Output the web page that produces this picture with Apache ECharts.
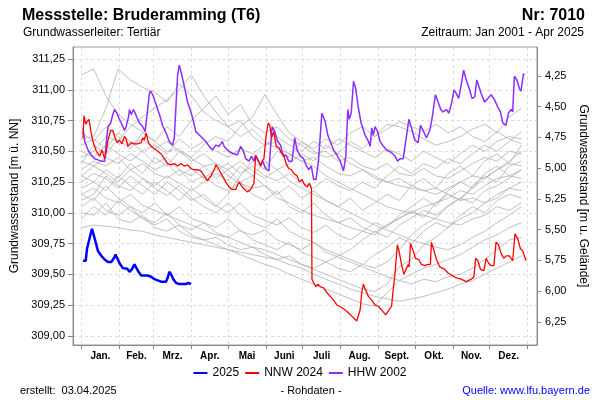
<!DOCTYPE html>
<html><head><meta charset="utf-8">
<script src="https://cdn.jsdelivr.net/npm/echarts@6/dist/echarts.min.js"></script>
<style>html,body{margin:0;padding:0;background:#fff}#c{width:600px;height:400px}</style>
</head><body><div id="c"></div>
<script>
// ---- axis definitions ----
const monthNames = ['Jan.','Feb.','Mrz.','Apr.','Mai','Juni','Juli','Aug.','Sept.','Okt.','Nov.','Dez.'];
const monthStarts = [0,31,59,90,120,151,181,212,243,273,304,334,365];
const leftTicks = [309,309.25,309.5,309.75,310,310.25,310.5,310.75,311,311.25];
const rightTicks = [4.25,4.5,4.75,5,5.25,5.5,5.75,6,6.25];
const groundLevel = 315.363;

// ---- other years (grey), sampled every 10 days ----
const grayDays = [0,10,20,30,40,50,60,70,80,90,100,110,120,130,140,150,160,170,180,190,200,210,220,230,240,250,260,270,280,290,300,310,320,330,340,350,360];
const gray01 = [311.12,311.17,310.95,310.80,310.72,310.66,310.58,310.50,310.52,310.44,310.38,310.40,310.30,310.24,310.20,310.22,310.12,310.08,310.02,309.98,309.95,309.92,309.88,309.85,309.82,309.90,309.96,310.00,310.05,310.08,310.12,310.18,310.15,310.22,310.28,310.30,310.35];
const gray02 = [310.60,310.62,310.85,311.17,311.08,311.02,310.98,310.90,311.05,310.95,310.82,310.75,310.70,310.62,310.68,310.58,310.52,310.48,310.42,310.45,310.38,310.32,310.30,310.35,310.28,310.25,310.22,310.20,310.18,310.15,310.20,310.25,310.30,310.28,310.35,310.40,310.38];
const gray03 = [310.45,310.50,310.62,310.58,310.70,310.78,310.85,310.92,311.00,311.12,310.95,310.82,310.70,310.75,310.62,310.55,310.58,310.48,310.42,310.38,310.30,310.25,310.20,310.15,310.10,310.05,310.02,310.00,309.98,309.95,309.92,309.90,309.95,309.98,310.05,310.02,310.08];
const gray04 = [310.30,310.25,310.35,310.28,310.40,310.32,310.45,310.38,310.50,310.45,310.55,310.62,310.58,310.70,310.78,310.96,310.80,310.65,310.58,310.50,310.45,310.48,310.40,310.35,310.30,310.25,310.28,310.22,310.18,310.20,310.15,310.10,310.12,310.08,310.15,310.20,310.18];
const gray05 = [310.40,310.55,310.48,310.60,310.52,310.65,310.58,310.70,310.62,310.75,310.85,310.95,310.80,310.88,310.72,310.65,310.70,310.60,310.55,310.48,310.50,310.42,310.45,310.38,310.35,310.40,310.32,310.30,310.36,310.30,310.28,310.34,310.40,310.45,310.42,310.50,310.48];
const gray06 = [310.20,310.25,310.18,310.30,310.22,310.15,310.25,310.18,310.10,310.20,310.12,310.05,310.15,310.30,310.42,310.35,310.50,310.45,310.58,310.52,310.60,310.55,310.65,310.70,310.62,310.72,310.70,310.66,310.60,310.55,310.58,310.62,310.68,310.72,310.65,310.78,310.85];
const gray07 = [310.10,310.15,310.30,310.22,310.18,310.28,310.20,310.14,310.22,310.12,310.05,310.00,310.08,309.98,309.92,309.88,309.95,309.85,309.80,309.76,309.70,309.66,309.62,309.58,309.55,309.60,309.70,309.82,309.90,309.96,310.05,310.12,310.20,310.28,310.35,310.42,310.50];
const gray08 = [309.88,309.90,309.89,309.88,309.86,309.85,309.82,309.80,309.78,309.76,309.74,309.72,309.70,309.68,309.66,309.64,309.62,309.58,309.55,309.50,309.46,309.42,309.38,309.35,309.32,309.30,309.28,309.30,309.32,309.35,309.38,309.42,309.45,309.50,309.55,309.60,309.65];
const gray09 = [310.05,310.12,310.02,309.98,310.05,309.95,309.90,309.95,309.85,309.80,309.78,309.74,309.70,309.66,309.62,309.58,309.55,309.50,309.46,309.42,309.38,309.34,309.30,309.26,309.24,309.35,309.45,309.50,309.55,309.58,309.62,309.66,309.72,309.78,309.82,309.88,309.92];
const gray10 = [310.15,310.10,310.22,310.12,310.05,310.00,310.08,309.98,309.94,309.90,309.86,309.82,309.80,309.76,309.72,309.70,309.66,309.62,309.58,309.54,309.50,309.46,309.42,309.38,309.36,309.42,309.56,309.62,309.74,309.80,309.88,309.95,310.00,310.08,310.12,310.20,310.25];
const gray11 = [310.35,310.42,310.38,310.45,310.35,310.40,310.32,310.28,310.35,310.25,310.30,310.22,310.18,310.25,310.15,310.10,310.18,310.05,310.00,310.08,309.98,309.92,309.96,309.88,309.84,309.90,309.95,310.02,309.96,310.08,310.15,310.10,310.22,310.30,310.25,310.38,310.42];
const gray12 = [310.50,310.45,310.55,310.48,310.42,310.50,310.40,310.45,310.35,310.30,310.38,310.28,310.35,310.25,310.30,310.22,310.15,310.22,310.12,310.18,310.10,310.05,310.12,310.02,310.08,310.15,310.10,310.22,310.28,310.20,310.32,310.38,310.30,310.42,310.48,310.40,310.55];
const gray13 = [310.25,310.32,310.28,310.20,310.30,310.22,310.15,310.25,310.18,310.10,310.15,310.06,310.00,310.08,309.98,309.94,309.90,309.96,309.88,309.84,309.90,309.82,309.78,309.85,309.92,309.88,309.98,310.05,310.12,310.05,310.18,310.25,310.20,310.32,310.38,310.30,310.28];
const gray14 = [310.00,309.98,310.08,309.95,309.92,309.98,309.88,309.85,309.90,309.82,309.78,309.80,309.74,309.70,309.72,309.66,309.62,309.65,309.58,309.55,309.60,309.55,309.52,309.58,309.66,309.72,309.80,309.75,309.85,309.92,309.88,309.98,310.05,310.00,310.10,310.15,310.12];
const gray15 = [310.55,310.60,310.52,310.65,310.58,310.50,310.55,310.48,310.60,310.52,310.58,310.50,310.45,310.52,310.48,310.55,310.62,310.55,310.50,310.58,310.52,310.60,310.55,310.50,310.45,310.52,310.48,310.42,310.50,310.45,310.40,310.48,310.55,310.50,310.58,310.62,310.60];
const gray16 = [310.42,310.38,310.45,310.40,310.48,310.42,310.35,310.40,310.30,310.36,310.28,310.35,310.40,310.32,310.38,310.30,310.26,310.32,310.25,310.20,310.28,310.22,310.18,310.25,310.20,310.30,310.38,310.32,310.40,310.36,310.44,310.40,310.48,310.55,310.50,310.58,310.66];
const gray17 = [310.65,310.58,310.70,310.62,310.55,310.60,310.52,310.58,310.50,310.42,310.48,310.40,310.35,310.42,310.34,310.28,310.35,310.26,310.20,310.15,310.10,310.05,310.00,309.95,309.90,309.86,309.82,309.78,309.75,309.72,309.70,309.74,309.80,309.85,309.92,309.98,310.05];
const gray18 = [310.15,310.20,310.12,310.08,310.15,310.06,310.02,309.98,310.05,309.95,309.92,309.88,309.95,309.85,309.82,309.86,309.78,309.74,309.70,309.76,309.68,309.64,309.60,309.56,309.52,309.48,309.45,309.42,309.46,309.44,309.48,309.50,309.55,309.62,309.70,309.78,309.80];
const gray19 = [310.30,310.38,310.32,310.25,310.35,310.28,310.22,310.30,310.24,310.18,310.25,310.32,310.26,310.38,310.30,310.42,310.35,310.40,310.48,310.42,310.55,310.48,310.58,310.52,310.62,310.68,310.74,310.70,310.66,310.72,310.65,310.70,310.62,310.58,310.66,310.60,310.56];
const gray20 = [309.95,310.05,309.98,310.10,310.02,309.96,309.92,310.00,309.90,309.86,309.92,309.84,309.80,309.86,309.78,309.74,309.70,309.76,309.68,309.64,309.60,309.65,309.70,309.78,309.85,309.80,309.90,309.96,310.02,309.98,310.06,310.12,310.08,310.18,310.22,310.28,310.35];
const grayLines = [gray01,gray02,gray03,gray04,gray05,gray06,gray07,gray08,gray09,gray10,gray11,gray12,gray13,gray14,gray15,gray16,gray17,gray18,gray19,gray20];

// ---- highlighted years: [day of year, level m ü. NN] ----
const y2025 = [[1.3,309.61],[3.5,309.61],[4.6,309.71],[6,309.72],[8.6,309.87],[10.3,309.81],[13.5,309.69],[16.3,309.65],[19,309.62],[21.7,309.60],[24.4,309.60],[26.5,309.63],[27.9,309.66],[29.3,309.63],[31.2,309.59],[33.9,309.55],[35.3,309.54],[37.5,309.545],[39.3,309.52],[41.2,309.54],[43.4,309.58],[44.8,309.565],[46.7,309.52],[48.9,309.49],[54.2,309.49],[57,309.48],[59.7,309.46],[62.4,309.45],[65.1,309.44],[69.2,309.44],[70.5,309.47],[71.9,309.52],[73.3,309.50],[75.2,309.46],[77.4,309.43],[80,309.42],[82.7,309.42],[85.5,309.42],[87.4,309.43],[88.2,309.44],[89.6,309.42]];

const nnw2024 = [[1.3,310.61],[2.1,310.79],[3.5,310.72],[4.6,310.74],[6.2,310.76],[7.6,310.67],[9.4,310.58],[12.2,310.50],[14.9,310.46],[16.8,310.51],[19,310.44],[20.4,310.50],[21.7,310.59],[23.9,310.67],[25.7,310.67],[27.1,310.62],[29.3,310.57],[31.2,310.59],[33.1,310.56],[35.3,310.62],[36.6,310.60],[38,310.54],[40.7,310.57],[43.4,310.56],[46.1,310.56],[48.9,310.57],[50.2,310.61],[51.5,310.59],[52.9,310.65],[54.8,310.57],[57,310.54],[59.7,310.52],[62.4,310.50],[65.1,310.48],[67.8,310.44],[70.5,310.40],[73.3,310.39],[76,310.40],[78.7,310.38],[81.4,310.40],[84.1,310.38],[86.8,310.39],[89.6,310.36],[92.3,310.35],[95,310.35],[97.7,310.34],[100.4,310.30],[103.1,310.26],[105.9,310.30],[108.6,310.35],[110,310.39],[112.6,310.35],[115.3,310.30],[118.1,310.25],[120.8,310.21],[123.5,310.19],[126.2,310.19],[128.9,310.25],[131.6,310.21],[135.7,310.17],[138.4,310.19],[141.1,310.24],[142.5,310.46],[144.6,310.43],[146.6,310.38],[147.9,310.42],[149.3,310.44],[151.1,310.63],[152.8,310.73],[154.1,310.71],[155.5,310.61],[157.4,310.66],[159.3,310.54],[161.5,310.53],[163.4,310.49],[165.5,310.47],[167.4,310.40],[169.6,310.36],[171.8,310.35],[173.7,310.32],[176.4,310.30],[178.3,310.25],[180.5,310.27],[182.4,310.23],[184.5,310.21],[186.5,310.24],[187.8,310.21],[188.2,310.19],[188.6,309.46],[190,309.43],[191.8,309.40],[193.5,309.42],[195.4,309.40],[198.1,309.39],[200.8,309.35],[203.6,309.32],[206.3,309.29],[209,309.25],[213,309.23],[217.1,309.20],[221.2,309.16],[225.2,309.12],[226.6,309.13],[228,309.21],[229.3,309.35],[230.7,309.42],[232.1,309.38],[234.8,309.32],[237.5,309.29],[240.2,309.25],[242.9,309.24],[245.6,309.21],[248.9,309.17],[251,309.20],[253.7,309.24],[255.1,309.38],[256.5,309.50],[258.4,309.74],[259.8,309.69],[261.9,309.58],[263.8,309.50],[266,309.55],[267.3,309.58],[268.1,309.56],[269.2,309.75],[271.4,309.69],[273.3,309.63],[276,309.62],[278.2,309.58],[280.9,309.57],[283.6,309.58],[285.5,309.58],[286.3,309.76],[288.5,309.69],[290.4,309.62],[293.2,309.56],[297.2,309.54],[299.9,309.51],[303.2,309.49],[306.7,309.47],[310.7,309.46],[314.8,309.44],[318.9,309.46],[321.1,309.48],[322.5,309.63],[324.3,309.61],[326.5,309.54],[329.2,309.53],[331.1,309.63],[333.1,309.59],[335.2,309.57],[337.4,309.57],[339.2,309.76],[341.2,309.74],[343.3,309.67],[345.5,309.63],[347.4,309.65],[350.1,309.65],[352.8,309.61],[354.7,309.83],[356.9,309.79],[359.1,309.71],[361,309.69],[363.7,309.61]];

const hhw2002 = [[1.3,310.69],[2.7,310.58],[5.4,310.51],[8.1,310.47],[10.8,310.44],[13.5,310.43],[16.3,310.42],[19,310.42],[20.4,310.58],[21.7,310.70],[23.9,310.73],[25.7,310.80],[27.1,310.84],[29,310.81],[30.6,310.77],[32.6,310.73],[35.3,310.67],[36.6,310.70],[38.5,310.78],[39.3,310.84],[40.7,310.80],[42.6,310.84],[44,310.81],[45.6,310.77],[47.5,310.73],[50.2,310.70],[52.1,310.66],[53.7,310.80],[55.6,310.97],[56.4,310.99],[58.3,310.96],[61.1,310.88],[63.8,310.80],[66.4,310.71],[69.2,310.65],[71.9,310.58],[74.6,310.55],[76,310.61],[77.4,310.88],[78.7,311.12],[80,311.20],[81.9,311.13],[84.1,311.03],[86.8,310.90],[89.6,310.82],[91.7,310.74],[93.6,310.66],[97.7,310.62],[101.8,310.58],[104.5,310.54],[107.2,310.51],[109.9,310.55],[112.6,310.54],[115.3,310.58],[116.7,310.54],[119.4,310.51],[122.1,310.49],[124.8,310.48],[127.5,310.47],[130.3,310.54],[132.2,310.51],[134.4,310.44],[137.1,310.42],[139.2,310.46],[141.1,310.42],[142.5,310.47],[144.6,310.42],[146.6,310.39],[148.4,310.42],[150.6,310.36],[153.3,310.34],[156,310.70],[158.2,310.66],[160.1,310.59],[162.9,310.55],[165,310.46],[167.4,310.47],[169.6,310.42],[172.3,310.42],[174.5,310.61],[176.4,310.51],[179.1,310.46],[181.8,310.44],[183.7,310.39],[185.9,310.35],[188.1,310.38],[190,310.27],[191.9,310.27],[194,310.43],[196.7,310.81],[199.5,310.74],[201.6,310.63],[203.6,310.58],[206.3,310.51],[209,310.47],[211.7,310.42],[214.4,310.34],[216.3,310.46],[217.9,310.84],[219.1,310.76],[220.7,310.81],[222.6,311.07],[224.4,311.01],[226.6,310.85],[228.8,310.73],[232.1,310.63],[234.8,310.58],[236.2,310.54],[237.5,310.69],[238.8,310.63],[240.2,310.70],[242.3,310.66],[244.3,310.58],[247,310.54],[249.7,310.51],[253.7,310.49],[256.5,310.46],[258.6,310.42],[260.6,310.44],[263.3,310.44],[266,310.63],[267.9,310.76],[270,310.69],[272.8,310.59],[275.5,310.57],[277.4,310.71],[279.5,310.67],[282.2,310.61],[285,310.67],[286.9,310.77],[289.6,310.96],[291.8,310.90],[294,310.84],[295.8,310.82],[298.5,310.84],[300.5,310.81],[302.6,310.88],[304.8,311.00],[306.7,310.97],[308.6,310.93],[310.7,311.04],[312.7,311.16],[314.8,311.08],[317.6,311.00],[319.5,310.93],[321.7,310.94],[323.5,311.08],[324.9,311.08],[327,310.97],[329.8,310.90],[332.5,310.93],[335.2,310.96],[337.9,310.92],[340.6,310.86],[342.8,310.82],[344.7,310.73],[347.4,310.71],[349.3,310.81],[351.5,310.84],[352.8,310.82],[354.2,311.11],[356.3,311.08],[358.3,311.01],[359.6,310.99],[361.6,311.13],[362.4,311.12]];

// ---- build chart ----
const monthMids = monthNames.map((_, i) => (monthStarts[i] + monthStarts[i + 1]) / 2);
const yMin = 308.925, yMax = 311.348;
const fmt = v => v.toFixed(2).replace('.', ',');
const FONT = '"Liberation Sans", Arial, Helvetica, sans-serif';

const series = grayLines.map((g, k) => ({
  name: 'grau' + k, type: 'line', silent: true, showSymbol: false,
  data: grayDays.map((d, i) => [d, g[i]]),
  lineStyle: { color: '#a8a8a8', width: 0.9, opacity: 0.8 }, z: 1
}));
series.push({ name: 'HHW 2002', type: 'line', showSymbol: false, data: hhw2002,
  lineStyle: { color: '#8c2eff', width: 1.5 }, itemStyle: { color: '#8c2eff' }, z: 3 });
series.push({ name: 'NNW 2024', type: 'line', showSymbol: false, data: nnw2024,
  lineStyle: { color: '#ff0000', width: 1.3 }, itemStyle: { color: '#ff0000' }, z: 4 });
series.push({ name: '2025', type: 'line', showSymbol: false, data: y2025,
  lineStyle: { color: '#0000ff', width: 2.5 }, itemStyle: { color: '#0000ff' }, z: 5 });

const chart = echarts.init(document.getElementById('c'), null, { renderer: 'canvas' });
chart.setOption({
  animation: false,
  backgroundColor: '#fff',
  textStyle: { fontFamily: FONT },
  title: [
    { text: 'Messstelle: Bruderamming (T6)', left: 22, top: 8, padding: 0, textStyle: { fontSize: 16, fontWeight: 'bold', color: '#000', fontFamily: FONT } },
    { text: 'Nr: 7010', right: 15, top: 8, padding: 0, textStyle: { fontSize: 16, fontWeight: 'bold', color: '#000', fontFamily: FONT } },
    { text: 'Grundwasserleiter: Tertiär', left: 23, top: 27, padding: 0, textStyle: { fontSize: 12, fontWeight: 'normal', color: '#000', fontFamily: FONT } },
    { text: 'Zeitraum: Jan 2001 - Apr 2025', right: 16, top: 27, padding: 0, textStyle: { fontSize: 12, fontWeight: 'normal', color: '#000', fontFamily: FONT } },
    { text: 'erstellt:  03.04.2025', left: 20, top: 385, padding: 0, textStyle: { fontSize: 11, fontWeight: 'normal', color: '#000', fontFamily: FONT } },
    { text: '- Rohdaten -', left: 311, textAlign: 'center', top: 385, padding: 0, textStyle: { fontSize: 11, fontWeight: 'normal', color: '#000', fontFamily: FONT } },
    { text: 'Quelle: www.lfu.bayern.de', right: 10, top: 385, padding: 0, textStyle: { fontSize: 11, fontWeight: 'normal', color: '#0000ff', fontFamily: FONT } }
  ],
  legend: {
    data: [
      { name: '2025', icon: 'rect', itemStyle: { color: '#0000ff' } },
      { name: 'NNW 2024', icon: 'rect', itemStyle: { color: '#ff0000' } },
      { name: 'HHW 2002', icon: 'rect', itemStyle: { color: '#8c2eff' } }
    ],
    left: 'center', top: 367, padding: 0, itemWidth: 14, itemHeight: 2, itemGap: 6,
    textStyle: { fontSize: 12, color: '#000', fontFamily: FONT }
  },
  grid: { left: 73, right: 63, top: 47, bottom: 55, show: true, borderColor: '#999', borderWidth: 1, containLabel: false },
  xAxis: {
    type: 'value', min: -6.9, max: 372.7,
    axisLine: { show: true, onZero: false, lineStyle: { color: '#888' } },
    axisTick: { show: true, length: 4, customValues: monthStarts, lineStyle: { color: '#888' } },
    axisLabel: { customValues: monthMids, margin: 6, fontSize: 10, fontWeight: 'bold', color: '#000',
      formatter: v => { const i = monthMids.indexOf(v); return i >= 0 ? monthNames[i] : ''; } },
    splitLine: { show: true, lineStyle: { type: [3, 3], color: '#dcdcdc' } }
  },
  yAxis: [
    {
      type: 'value', position: 'left', min: yMin, max: yMax,
      name: 'Grundwasserstand [m ü. NN]', nameLocation: 'middle', nameGap: 45, nameRotate: 90,
      nameTextStyle: { fontSize: 12, color: '#000', fontFamily: FONT },
      axisLine: { show: true, onZero: false, lineStyle: { color: '#888' } },
      axisTick: { show: true, length: 5, customValues: leftTicks, lineStyle: { color: '#888' } },
      axisLabel: { customValues: leftTicks, formatter: fmt, margin: 8, fontSize: 11, color: '#000' },
      splitLine: { show: true, lineStyle: { type: [3, 3], color: '#dcdcdc' } }
    },
    {
      type: 'value', position: 'right', inverse: true,
      min: groundLevel - yMax, max: groundLevel - yMin,
      name: 'Grundwasserstand [m u. Gelände]', nameLocation: 'middle', nameGap: 36, nameRotate: -90,
      nameTextStyle: { fontSize: 12, color: '#000', fontFamily: FONT },
      axisLine: { show: true, onZero: false, lineStyle: { color: '#888' } },
      axisTick: { show: true, length: 4, customValues: rightTicks, lineStyle: { color: '#888' } },
      axisLabel: { customValues: rightTicks, formatter: fmt, margin: 8, fontSize: 11, color: '#000' },
      splitLine: { show: false }
    }
  ],
  series: series
});
</script></body></html>
